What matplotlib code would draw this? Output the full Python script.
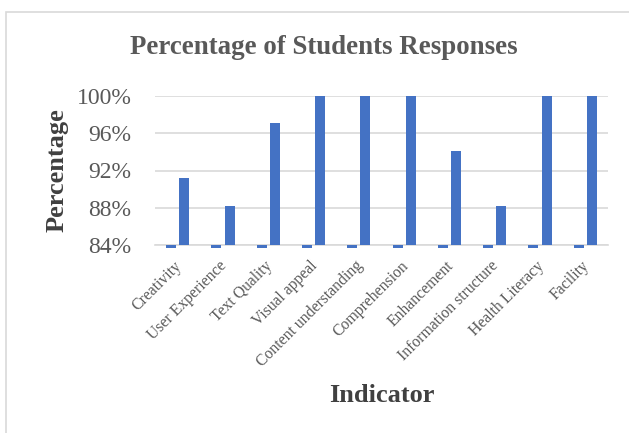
import matplotlib
matplotlib.use("Agg")
import matplotlib.pyplot as plt
from matplotlib.patches import Rectangle
from matplotlib.transforms import ScaledTranslation
import numpy as np

# categories and values
indicators = ["Creativity", "User Experience", "Text Quality", "Visual appeal",
              "Content understanding", "Comprehension", "Enhancement",
              "Information structure", "Health Literacy", "Facility"]
yes_pct = [0.9118, 0.8824, 0.9706, 1.00, 1.00, 1.00, 0.9412, 0.8824, 1.00, 1.00]
no_pct = [0.0882, 0.1176, 0.0294, 0.0, 0.0, 0.0, 0.0588, 0.1176, 0.0, 0.0]
yticks = [0.84, 0.88, 0.92, 0.96, 1.00]

plt.rcParams['font.family'] = ['Liberation Serif', 'DejaVu Serif']

fig = plt.figure(figsize=(6.29, 4.33), dpi=100)
ax = fig.add_axes([155 / 629, 1 - 245 / 433, 453 / 629, 149 / 433])

# chart border (cropped at right and bottom like the source)
fig.patches.append(Rectangle((6.5 / 629, -0.1), 2.0, 1 - 12.5 / 433 + 0.1,
                             transform=fig.transFigure, fill=False,
                             edgecolor="#d9d9d9", linewidth=1.2))

x = np.arange(len(indicators))
w = 0.22
ymin = yticks[0]
# "no" series lies below the axis minimum, so Excel shows only a thin stub
ax.bar(x - 0.145, [-0.0035 if v < ymin else 0 for v in no_pct], w, bottom=ymin,
       color="#4472c4", clip_on=False, zorder=3)
ax.bar(x + 0.145, np.array(yes_pct) - ymin, w, bottom=ymin, color="#4472c4", zorder=3)

ax.set_xlim(-0.5, len(indicators) - 0.5)
ax.set_ylim(ymin, 1.0)
ax.set_yticks(yticks)
ax.set_yticklabels([f"{round(t*100)}%" for t in yticks], fontsize=17, color="#595959")
ax.yaxis.grid(True, color="#d9d9d9", linewidth=1.2, zorder=0)
ax.set_axisbelow(True)
ax.tick_params(axis="y", length=0, pad=17)
ax.tick_params(axis="x", length=0, pad=10)
ax.set_xticks(x)
ax.set_xticklabels(indicators, rotation=45, ha="right", rotation_mode="anchor",
                   fontsize=11.3, color="#595959")
shift = ScaledTranslation(-4 / 100, 1 / 100, fig.dpi_scale_trans)
for lbl in ax.get_xticklabels():
    lbl.set_transform(lbl.get_transform() + shift)
for s in ["top", "right", "left"]:
    ax.spines[s].set_visible(False)
ax.spines["bottom"].set_color("#d9d9d9")
ax.spines["bottom"].set_linewidth(1.2)

fig.text(324 / 629, 1 - 48 / 433, "Percentage of Students Responses", ha="center",
         va="center", fontsize=19.4, fontweight="bold", color="#595959")
fig.text(57 / 629, 1 - 170 / 433, "Percentage", rotation=90, ha="center", va="center",
         fontsize=19, fontweight="bold", color="#404040")
fig.text(382 / 629, 1 - 396 / 433, "Indicator", ha="center", va="center",
         fontsize=19, fontweight="bold", color="#404040")

fig.savefig("out.png", dpi=100)
